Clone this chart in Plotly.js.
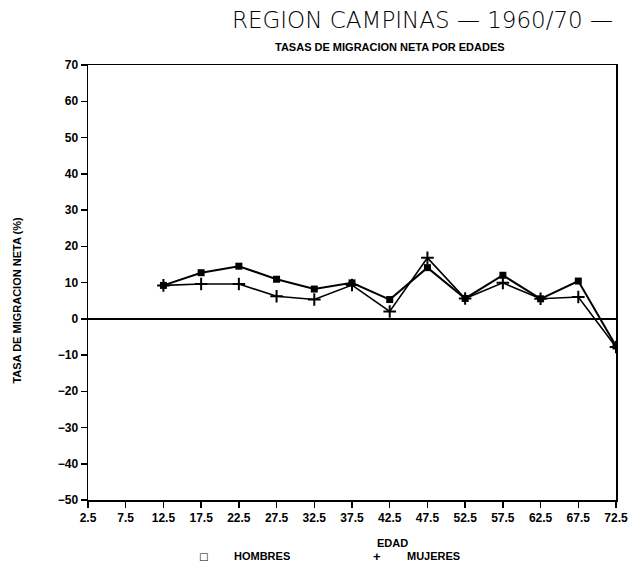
<!DOCTYPE html>
<html>
<head>
<meta charset="utf-8">
<script src="https://cdn.plot.ly/plotly-3.0.1.min.js"></script>
<style>html,body{margin:0;padding:0;background:#fff;}#chart{width:633px;height:572px;}</style>
</head>
<body>
<div id="chart"></div>
<script>
const edades = [12.5, 17.5, 22.5, 27.5, 32.5, 37.5, 42.5, 47.5, 52.5, 57.5, 62.5, 67.5, 72.5];
const hombres = [9.2, 12.7, 14.5, 10.9, 8.2, 9.9, 5.3, 14.1, 5.6, 12.0, 5.5, 10.4, -7.5];
const mujeres = [9.2, 9.6, 9.6, 6.2, 5.3, 9.3, 2.0, 16.8, 5.6, 9.9, 5.5, 6.0, -7.8];
const xTicks = [2.5, 7.5, 12.5, 17.5, 22.5, 27.5, 32.5, 37.5, 42.5, 47.5, 52.5, 57.5, 62.5, 67.5, 72.5];
const xTickText = ["2.5","7.5","12.5","17.5","22.5","27.5","32.5","37.5","42.5","47.5","52.5","57.5","62.5","67.5","72.5"];
const yTicks = [70, 60, 50, 40, 30, 20, 10, 0, -10, -20, -30, -40, -50];

const boldFont = {family: "Liberation Sans, Arial, sans-serif", size: 11, color: "#000", weight: 700};

const traces = [
  {x: edades, y: hombres, name: "HOMBRES", mode: "lines+markers",
   line: {color: "#000", width: 2}, marker: {symbol: "square", size: 7, color: "#000"}},
  {x: edades, y: mujeres, name: "MUJERES", mode: "lines+markers",
   line: {color: "#000", width: 1.6}, marker: {symbol: "cross-thin", size: 9, line: {color: "#000", width: 2}, color: "#000"}}
];

const layout = {
  width: 633, height: 572,
  margin: {l: 88, r: 17, t: 65, b: 72},
  paper_bgcolor: "#fff", plot_bgcolor: "#fff",
  showlegend: false,
  xaxis: {range: [2.5, 72.5], tickvals: xTicks, ticktext: xTickText,
    showgrid: false, zeroline: false, showline: true, linecolor: "#000", linewidth: 1.5, mirror: true,
    ticks: "outside", ticklen: 6, tickwidth: 1.5, tickcolor: "#000",
    tickfont: {family: "Liberation Sans, Arial, sans-serif", size: 12, color: "#000", weight: 700}},
  yaxis: {range: [-50, 70], tickvals: yTicks,
    showgrid: false, zeroline: true, zerolinecolor: "#000", zerolinewidth: 1.5,
    showline: true, linecolor: "#000", linewidth: 1.5, mirror: true,
    ticks: "outside", ticklen: 6, tickwidth: 1.5, tickcolor: "#000",
    tickfont: {family: "Liberation Sans, Arial, sans-serif", size: 12, color: "#000", weight: 700}},
  annotations: [
    {text: "REGION CAMPINAS \u2014 1960/70 \u2014", xref: "paper", yref: "paper", x: 0.633, y: 1.103, yanchor: "middle", xanchor: "center", showarrow: false,
     font: {family: "DejaVu Sans, sans-serif", size: 23, color: "#000", weight: 300}},
    {text: "TASAS DE MIGRACION NETA POR EDADES", xref: "paper", yref: "paper", x: 0.572, y: 1.041, yanchor: "middle", xanchor: "center", showarrow: false,
     font: boldFont},
    {text: "TASA DE MIGRACION NETA (%)", xref: "paper", yref: "paper", x: -0.135, y: 0.46, xanchor: "center", yanchor: "middle", textangle: -90, showarrow: false,
     font: boldFont},
    {text: "EDAD", xref: "paper", yref: "paper", x: 0.576, y: -0.099, xanchor: "center", yanchor: "middle", showarrow: false, font: boldFont},
    {text: "\u25A1", xref: "paper", yref: "paper", x: 0.218, y: -0.129, xanchor: "center", yanchor: "middle", showarrow: false,
     font: {family: "DejaVu Sans, sans-serif", size: 10, color: "#000", weight: 700}},
    {text: "HOMBRES", xref: "paper", yref: "paper", x: 0.273, y: -0.129, xanchor: "left", yanchor: "middle", showarrow: false, font: boldFont},
    {text: "+", xref: "paper", yref: "paper", x: 0.547, y: -0.129, xanchor: "center", yanchor: "middle", showarrow: false, font: {family: "Liberation Sans, Arial, sans-serif", size: 13, color: "#000", weight: 700}},
    {text: "MUJERES", xref: "paper", yref: "paper", x: 0.600, y: -0.129, xanchor: "left", yanchor: "middle", showarrow: false, font: boldFont}
  ]
};

Plotly.newPlot("chart", traces, layout, {displayModeBar: false, staticPlot: true});
</script>
</body>
</html>
